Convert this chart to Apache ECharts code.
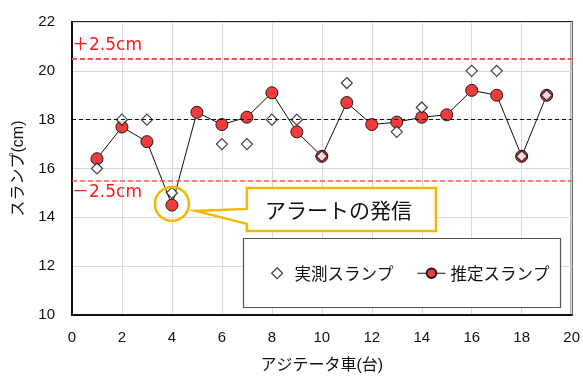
<!DOCTYPE html>
<html>
<head>
<meta charset="utf-8">
<script src="https://cdn.jsdelivr.net/npm/echarts@6/dist/echarts.min.js"></script>
<style>
html, body { margin: 0; padding: 0; background: #fff; }
#chart { width: 583px; height: 379px; }
</style>
</head>
<body>
<div id="chart"></div>
<script>
// Truck numbers (アジテータ車) 1..19
const trucks = [1, 2, 3, 4, 5, 6, 7, 8, 9, 10, 11, 12, 13, 14, 15, 16, 17, 18, 19];
// Measured slump (cm); null where no measurement was taken
const measured = [16.0, 18.0, 18.0, 15.0, null, 17.0, 17.0, 18.0, 18.0, 16.5, 19.5, null, 17.5, 18.5, null, 20.0, 20.0, 16.5, 19.0];
// Estimated slump (cm)
const estimated = [16.4, 17.7, 17.1, 14.5, 18.3, 17.8, 18.1, 19.1, 17.5, 16.5, 18.7, 17.8, 17.9, 18.1, 18.2, 19.2, 19.0, 16.5, 19.0];
// Target slump and tolerance band
const target = 18;
const tolerance = 2.5;
const upperLabel = '＋2.5cm';
const lowerLabel = '－2.5cm';
// Alert point (truck index and value)
const alertTruck = 4;
const alertValue = 14.5;
const alertText = 'アラートの発信';
const seriesNames = ['実測スランプ', '推定スランプ'];

const latin = 'Liberation Sans, Arial, sans-serif';
const mixed = '"Liberation Sans", "Noto Sans CJK JP", sans-serif';
const jp = '"Noto Sans CJK JP", sans-serif';
const wide = '"DejaVu Sans", "Noto Sans CJK JP", sans-serif';

const chart = echarts.init(document.getElementById('chart'), null, { renderer: 'canvas' });

const legendText = { fontFamily: jp, fontSize: 16.5, color: '#111' };

const option = {
  animation: false,
  backgroundColor: '#fff',
  grid: {
    left: 72, right: 11, top: 22, bottom: 61,
    show: true, borderColor: '#222', borderWidth: 2, backgroundColor: 'transparent'
  },
  xAxis: {
    type: 'value', min: 0, max: 20, interval: 2,
    name: 'アジテータ車(台)', nameLocation: 'middle', nameGap: 43,
    nameTextStyle: { fontFamily: mixed, fontSize: 16, color: '#111' },
    axisLine: { show: true, lineStyle: { color: '#111', width: 2 } },
    axisTick: { show: false },
    axisLabel: { fontFamily: latin, fontSize: 15, color: '#111', margin: 15 },
    splitLine: { show: true, lineStyle: { color: '#d9d9d9', width: 1 } }
  },
  yAxis: {
    type: 'value', min: 10, max: 22, interval: 2,
    name: 'スランプ(cm)', nameLocation: 'middle', nameGap: 45, nameRotate: 90,
    nameTextStyle: { fontFamily: mixed, fontSize: 16, color: '#111' },
    axisLine: { show: true, lineStyle: { color: '#111', width: 2 } },
    axisTick: { show: false },
    axisLabel: { fontFamily: latin, fontSize: 15, color: '#111', margin: 17 },
    splitLine: { show: true, lineStyle: { color: '#d9d9d9', width: 1 } }
  },
  legend: [
    {
      left: 266, top: 260, itemWidth: 11, itemHeight: 11, itemGap: 0,
      textStyle: Object.assign({ padding: [0, 0, 0, 7] }, legendText),
      itemStyle: { color: '#fff', borderColor: '#111', borderWidth: 1.2 },
      data: [{ name: seriesNames[0] }], z: 20
    },
    {
      left: 412, top: 260, itemWidth: 28, itemHeight: 12, itemGap: 0,
      textStyle: Object.assign({ padding: [0, 0, 0, 0] }, legendText),
      lineStyle: { width: 1, color: '#111' },
      data: [{ name: seriesNames[1] }], z: 20
    }
  ],
  series: [
    {
      name: seriesNames[1],
      type: 'line',
      symbol: 'circle', symbolSize: 12,
      lineStyle: { color: '#111', width: 1 },
      itemStyle: { color: '#f23b3b', borderColor: '#1a1a1a', borderWidth: 1 },
      data: trucks.map((t, i) => [t, estimated[i]]),
      z: 3,
      markLine: {
        silent: true, symbol: 'none', animation: false,
        data: [
          { yAxis: target + tolerance,
            lineStyle: { color: '#ff5252', type: [5, 3], width: 2 },
            label: { show: true, position: 'insideStartTop', formatter: upperLabel, color: '#ff1a1a',
                     fontFamily: wide, fontSize: 17, distance: [0, 5] } },
          { yAxis: target,
            lineStyle: { color: '#111', type: [4, 3], width: 1 },
            label: { show: false } },
          { yAxis: target - tolerance,
            lineStyle: { color: '#ff5252', type: [5, 3], width: 1.5 },
            label: { show: true, position: 'insideStartBottom', formatter: lowerLabel, color: '#ff1a1a',
                     fontFamily: wide, fontSize: 17, distance: [0, 3] } }
        ]
      }
    },
    {
      name: seriesNames[0],
      type: 'scatter',
      symbol: 'diamond', symbolSize: 11,
      itemStyle: { color: '#fff', borderColor: '#111', borderWidth: 1.2 },
      data: trucks.map((t, i) => [t, measured[i]]).filter(d => d[1] !== null),
      z: 4
    }
  ]
};

chart.setOption(option);

// Callout around the alert point, anchored to its data position
const p = chart.convertToPixel({ gridIndex: 0 }, [alertTruck, alertValue + 0.05]);
const bx = p[0] + 75, by = p[1] - 16, bw = 189, bh = 43;
chart.setOption({
  graphic: [
    {
      type: 'circle', z: 10,
      shape: { cx: p[0], cy: p[1], r: 17 },
      style: { fill: 'none', stroke: '#f5b800', lineWidth: 2.5 }
    },
    {
      type: 'polygon', z: 10,
      shape: { points: [
        [bx, by], [bx + bw, by], [bx + bw, by + bh], [bx, by + bh],
        [bx, by + 36], [p[0] + 24, p[1] + 7], [bx, by + 21]
      ] },
      style: { fill: '#fff', stroke: '#f5b800', lineWidth: 2.5 }
    },
    {
      type: 'text', z: 11,
      style: {
        x: bx + bw / 2 - 3, y: by + bh / 2 + 1, text: alertText,
        fill: '#111', font: '21px "Noto Sans CJK JP", sans-serif',
        align: 'center', verticalAlign: 'middle'
      }
    },
    {
      type: 'rect', z: 9,
      shape: { x: 243.5, y: 238.5, width: 317, height: 69 },
      style: { fill: '#fff', stroke: '#555', lineWidth: 1.2 }
    }
  ]
});
</script>
</body>
</html>
